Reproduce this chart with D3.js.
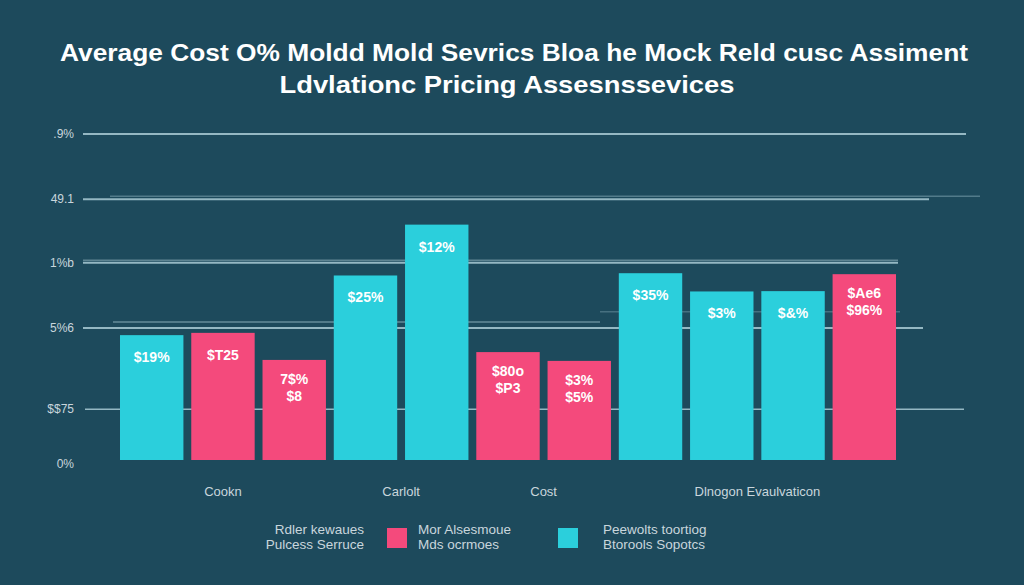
<!DOCTYPE html>
<html>
<head>
<meta charset="utf-8">
<script src="https://cdn.jsdelivr.net/npm/d3@7"></script>
<style>
  html, body { margin: 0; padding: 0; background: #1d4a5c; }
  svg { display: block; }
</style>
</head>
<body>
<svg id="chart" width="1024" height="585"></svg>
<script>
// ---------------- DATA ----------------
const titleLines = [
  "Average Cost O% Moldd Mold Sevrics Bloa he Mock Reld cusc Assiment",
  "Ldvlationc Pricing Assesnssevices"
];
const categories = ["Cookn", "Carlolt", "Cost", "Dlnogon Evaulvaticon"];
const barGroup = [0, 0, 0, 1, 1, 2, 2, 3, 3, 3, 3];
const barSeries = [2, 1, 1, 2, 2, 1, 1, 2, 2, 2, 1];
const barValues = [38.3, 39.0, 30.7, 56.6, 72.2, 33.1, 30.4, 57.3, 51.7, 51.8, 57.0];
const barLabels = [
  ["$19%"], ["$T25"], ["7$%", "$8"], ["$25%"], ["$12%"],
  ["$80o", "$P3"], ["$3%", "$5%"], ["$35%"], ["$3%"], ["$&%"], ["$Ae6", "$96%"]
];
const seriesNames = [
  ["Rdler kewaues", "Pulcess Serruce"],
  ["Mor Alsesmoue", "Mds ocrmoes"],
  ["Peewolts toortiog", "Btorools Sopotcs"]
];
const tickValues = [100, 80, 60.5, 40.5, 15.6, 0];
const tickLabels = [".9%", "49.1", "1%b", "5%6", "$$75", "0%"];

// ---------------- STYLE / LAYOUT ----------------
const bg = "#1d4a5c";
const seriesColors = [null, "#f44a7c", "#2bcfdc"];
const gridColor = "#95b8c3";
const textLight = "#c9d6dc";
const fontFamily = "'Liberation Sans', Arial, sans-serif";

const svg = d3.select("#chart");
svg.append("rect").attr("width", 1024).attr("height", 585).attr("fill", bg);

const x = d3.scaleBand()
  .domain(d3.range(barValues.length))
  .range([120, 896])
  .paddingInner(0.11)
  .paddingOuter(0);

const y = d3.scaleLinear().domain([0, 100]).range([460, 134]);

// Title
const titleCenters = [514, 507];
const titleWidths = [908, 455];
const titleBaselines = [61, 93];
svg.selectAll("text.title")
  .data(titleLines)
  .join("text")
  .attr("class", "title")
  .attr("x", (d, i) => titleCenters[i])
  .attr("y", (d, i) => titleBaselines[i])
  .attr("text-anchor", "middle")
  .attr("fill", "#ffffff")
  .attr("font-family", fontFamily)
  .attr("font-weight", "bold")
  .attr("font-size", 24)
  .attr("textLength", (d, i) => titleWidths[i])
  .attr("lengthAdjust", "spacingAndGlyphs")
  .text(d => d);

// Decorative faint secondary lines
const decor = [
  { v: 80, dy: -3, x1: 110, x2: 980, op: 0.45 },
  { v: 60.5, dy: -2.5, x1: 83, x2: 898, op: 0.55 },
  { v: 40.5, dy: -6, x1: 113, x2: 600, op: 0.6 },
  { v: 45.5, dy: 0, x1: 600, x2: 900, op: 0.35 }
];
svg.append("g").selectAll("line")
  .data(decor)
  .join("line")
  .attr("x1", d => d.x1).attr("x2", d => d.x2)
  .attr("y1", d => y(d.v) + d.dy).attr("y2", d => y(d.v) + d.dy)
  .attr("stroke", gridColor)
  .attr("stroke-opacity", d => d.op)
  .attr("stroke-width", 1.5);

// Main gridlines
const gridEnds = [[83, 966], [83, 929], [83, 898], [83, 923], [85, 964]];
svg.append("g").selectAll("line")
  .data(tickValues.slice(0, 5))
  .join("line")
  .attr("x1", (d, i) => gridEnds[i][0])
  .attr("x2", (d, i) => gridEnds[i][1])
  .attr("y1", d => y(d)).attr("y2", d => y(d))
  .attr("stroke", gridColor)
  .attr("stroke-width", (d, i) => i === 4 ? 1.5 : 2);

// Y tick labels
svg.append("g").selectAll("text")
  .data(tickValues)
  .join("text")
  .attr("x", 74)
  .attr("y", (d, i) => y(d) + (d === 0 ? 8 : 4))
  .attr("text-anchor", "end")
  .attr("fill", textLight)
  .attr("font-family", fontFamily)
  .attr("font-size", 12)
  .text((d, i) => tickLabels[i]);

// Bars
const bars = barValues.map((v, i) => ({ i, v, s: barSeries[i], labels: barLabels[i] }));
svg.append("g").selectAll("rect")
  .data(bars)
  .join("rect")
  .attr("x", d => x(d.i))
  .attr("y", d => y(d.v))
  .attr("width", x.bandwidth())
  .attr("height", d => y(0) - y(d.v))
  .attr("fill", d => seriesColors[d.s]);

// Bar value labels
const lbl = svg.append("g");
bars.forEach(d => {
  d.labels.forEach((t, k) => {
    lbl.append("text")
      .attr("x", x(d.i) + x.bandwidth() / 2)
      .attr("y", y(d.v) + (d.labels.length > 1 ? 24 + k * 17 : 27))
      .attr("text-anchor", "middle")
      .attr("fill", "#ffffff")
      .attr("font-family", fontFamily)
      .attr("font-weight", "bold")
      .attr("font-size", 14)
      .text(t);
  });
});

// Category labels (centred on each group's bars)
const catX = categories.map((c, gi) => {
  const idx = barGroup.map((g, i) => g === gi ? i : -1).filter(i => i >= 0);
  return d3.mean(idx, i => x(i) + x.bandwidth() / 2);
});
svg.append("g").selectAll("text")
  .data(categories)
  .join("text")
  .attr("x", (d, i) => catX[i])
  .attr("y", 496)
  .attr("text-anchor", "middle")
  .attr("fill", textLight)
  .attr("font-family", fontFamily)
  .attr("font-size", 13)
  .text(d => d);

// Legend
const legend = svg.append("g");
const legendItems = [
  { s: 0, textX: 364, anchor: "end", sw: null },
  { s: 1, textX: 418, anchor: "start", sw: 387 },
  { s: 2, textX: 603, anchor: "start", sw: 558 }
];
legendItems.forEach(it => {
  if (it.sw !== null) {
    legend.append("rect")
      .attr("x", it.sw).attr("y", 528)
      .attr("width", 20).attr("height", 20)
      .attr("fill", seriesColors[it.s]);
  }
  seriesNames[it.s].forEach((t, k) => {
    legend.append("text")
      .attr("x", it.textX)
      .attr("y", 534 + k * 15)
      .attr("text-anchor", it.anchor)
      .attr("fill", textLight)
      .attr("font-family", fontFamily)
      .attr("font-size", 13.5)
      .text(t);
  });
});
</script>
</body>
</html>
